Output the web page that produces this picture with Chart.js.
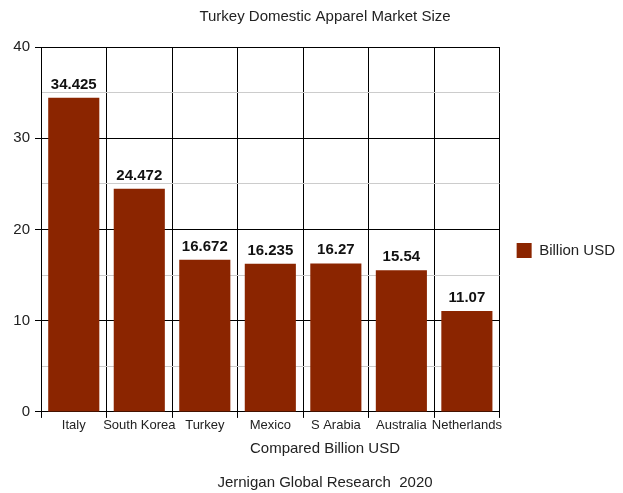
<!DOCTYPE html>
<html>
<head>
<meta charset="utf-8">
<title>Turkey Domestic Apparel Market Size</title>
<script src="https://cdn.jsdelivr.net/npm/chart.js@4.4.1/dist/chart.umd.min.js"></script>
<style>
  html, body { margin: 0; padding: 0; background: #ffffff; }
  #wrap { width: 623px; height: 493px; position: relative; }
</style>
</head>
<body>
<div id="wrap"><canvas id="chart"></canvas></div>
<script>
// Market size by country, billion USD
const countries = ['Italy', 'South Korea', 'Turkey', 'Mexico', 'S Arabia', 'Australia', 'Netherlands'];
const marketSize = [34.425, 24.472, 16.672, 16.235, 16.27, 15.54, 11.07];
const seriesName = 'Billion USD';
const chartTitle = 'Turkey Domestic Apparel Market Size';
const axisTitle = 'Compared Billion USD';
const sourceNote = 'Jernigan Global Research  2020';

const FONT = 'Liberation Sans, Arial, sans-serif';
const TEXT = '#222222';
const BAR = '#8B2500';

// Prints each bar's value just above it
const valueLabels = {
  id: 'valueLabels',
  afterDatasetsDraw(chart) {
    const { ctx } = chart;
    const meta = chart.getDatasetMeta(0);
    const data = chart.data.datasets[0].data;
    ctx.save();
    ctx.font = 'bold 15px ' + FONT;
    ctx.fillStyle = '#111111';
    ctx.textAlign = 'center';
    ctx.textBaseline = 'alphabetic';
    meta.data.forEach((bar, i) => {
      ctx.fillText(String(data[i]), bar.x, bar.y - 9);
    });
    ctx.restore();
  }
};

new Chart(document.getElementById('chart'), {
  type: 'bar',
  data: {
    labels: countries,
    datasets: [{
      label: seriesName,
      data: marketSize,
      backgroundColor: BAR,
      borderColor: BAR,
      borderWidth: 0,
      categoryPercentage: 1.0,
      barPercentage: 0.78
    }]
  },
  options: {
    responsive: true,
    maintainAspectRatio: false,
    animation: false,
    layout: { padding: { left: 25, right: -2, top: 8, bottom: 0 } },
    scales: {
      x: {
        grid: {
          offset: true,
          color: '#000000',
          lineWidth: 1,
          tickLength: 6,
          tickColor: '#000000'
        },
        border: { color: '#000000', width: 1 },
        ticks: {
          color: TEXT,
          padding: 0,
          maxRotation: 0,
          autoSkip: false,
          font: { family: FONT, size: 13 }
        }
      },
      y: {
        min: 0,
        max: 40,
        afterFit(scale) {
          // narrow axis box; the tick labels may spill into the left margin
          scale.width = 16;
          scale._computeLabelArea = () => null;
        },
        grid: {
          color: (c) => (c.tick && c.tick.value % 10 === 0) ? '#000000' : '#cccccc',
          tickColor: (c) => (c.tick && c.tick.value % 10 === 0) ? '#000000' : 'rgba(0,0,0,0)',
          lineWidth: 1,
          tickLength: 6
        },
        border: { color: '#000000', width: 1 },
        ticks: {
          stepSize: 5,
          padding: 5,
          color: TEXT,
          font: { family: FONT, size: 15 },
          callback: (v) => (v % 10 === 0 ? v : '')
        }
      }
    },
    plugins: {
      title: {
        display: true,
        text: chartTitle,
        color: TEXT,
        font: { family: FONT, size: 15, weight: 'normal', lineHeight: 1.2 },
        padding: { top: 0, bottom: 21 }
      },
      subtitle: {
        display: true,
        position: 'bottom',
        text: [axisTitle, '', sourceNote],
        color: TEXT,
        font: { family: FONT, size: 15, weight: 'normal', lineHeight: 17 / 15 },
        padding: { top: 7, bottom: 1.5 }
      },
      legend: {
        position: 'right',
        labels: {
          color: TEXT,
          boxWidth: 15,
          boxHeight: 15,
          padding: 17,
          font: { family: FONT, size: 15 }
        }
      },
      tooltip: { enabled: false }
    }
  },
  plugins: [valueLabels]
});
</script>
</body>
</html>
